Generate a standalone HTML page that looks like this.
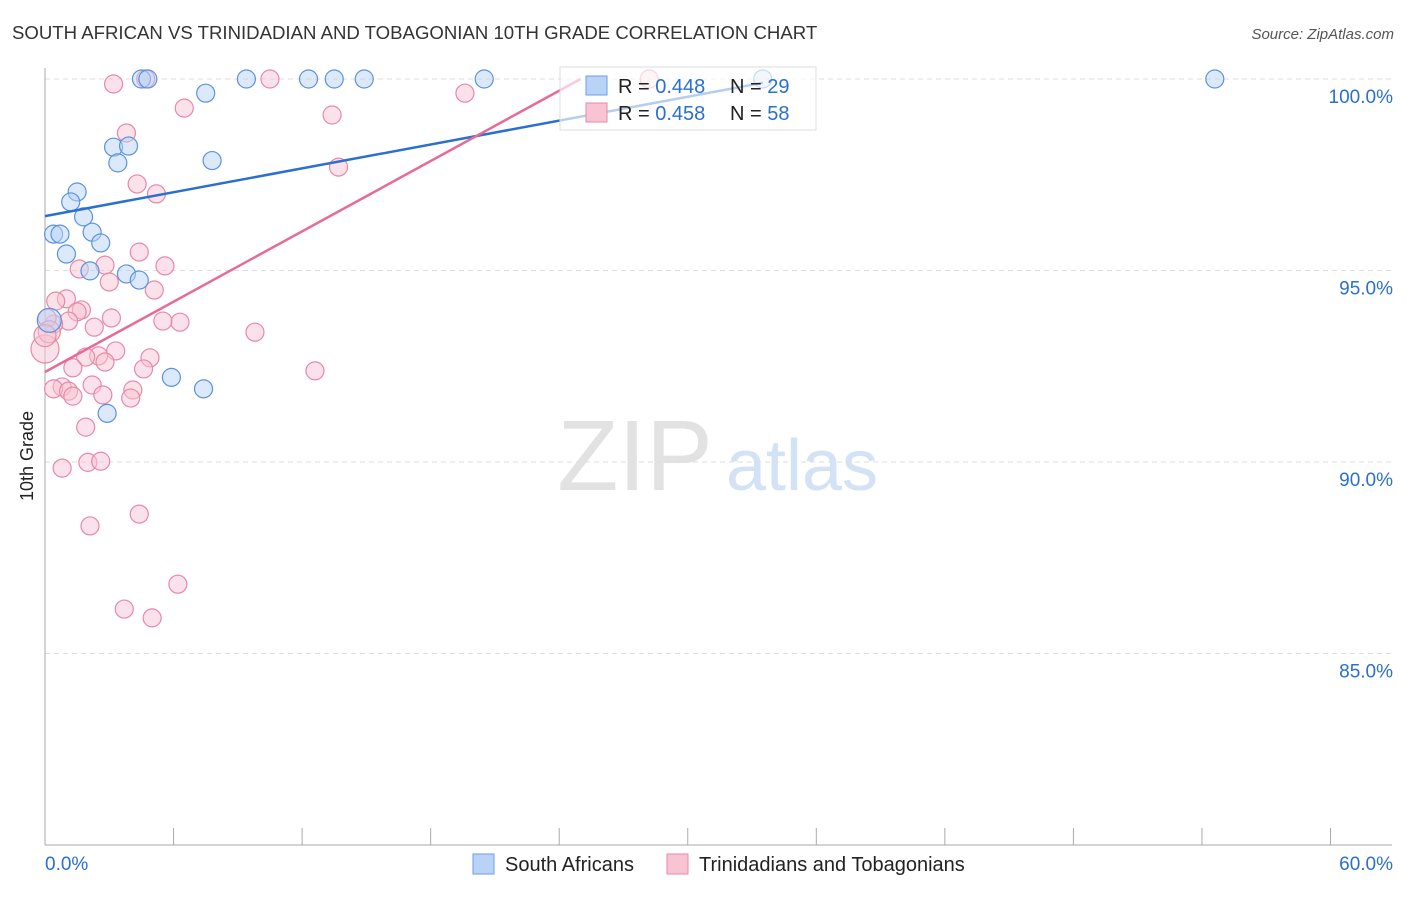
<!DOCTYPE html>
<html><head><meta charset="utf-8"><style>
body{margin:0;background:#fff;font-family:"Liberation Sans",sans-serif;}
svg text{font-family:"Liberation Sans",sans-serif;}
</style></head><body>
<svg id="chart" width="1406" height="892">
<text x="12" y="39" font-size="18.6" fill="#333">SOUTH AFRICAN VS TRINIDADIAN AND TOBAGONIAN 10TH GRADE CORRELATION CHART</text>
<text x="1394" y="39" font-size="15" fill="#555" font-style="italic" text-anchor="end">Source: ZipAtlas.com</text>
<text x="33" y="456" font-size="18" fill="#222" text-anchor="middle" transform="rotate(-90 33 456)">10th Grade</text>
<g><text x="635" y="490" font-size="100" fill="#e2e2e2" text-anchor="middle" font-family="Liberation Serif">ZIP</text><text x="802" y="490" font-size="72" fill="#d3e2f4" text-anchor="middle">atlas</text></g>
<g id="grid"></g><g id="axes"></g><g id="pts"></g><g id="lines"></g>
<g>
<rect x="560" y="67" width="256" height="63" fill="#fff" fill-opacity="0.65" stroke="#ddd"/>
<rect x="586" y="76" width="21" height="19" fill="#b8d3f5" stroke="#6d9ee6"/>
<text x="618" y="93" font-size="20" fill="#222">R = <tspan fill="#2b6fd1">0.448</tspan></text>
<text x="730" y="93" font-size="20" fill="#222">N = <tspan fill="#2b6fd1">29</tspan></text>
<rect x="586" y="103" width="21" height="19" fill="#f8c4d3" stroke="#e889a7"/>
<text x="618" y="120" font-size="20" fill="#222">R = <tspan fill="#2b6fd1">0.458</tspan></text>
<text x="730" y="120" font-size="20" fill="#222">N = <tspan fill="#2b6fd1">58</tspan></text>
</g>
<g>
<rect x="473" y="854" width="21" height="20" fill="#b8d3f5" stroke="#6d9ee6"/>
<text x="505" y="871" font-size="20" fill="#222">South Africans</text>
<rect x="667" y="854" width="21" height="20" fill="#f8c4d3" stroke="#e889a7"/>
<text x="699" y="871" font-size="20" fill="#222">Trinidadians and Tobagonians</text>
</g>
</svg>
<script>
const yTicks=[100,95,90,85];
const xTickCount=10;
const blueX=[4.5,4.8,9.4,12.3,13.5,14.9,20.5,54.6,33.5,7.5,3.2,3.9,3.4,7.8,1.5,1.2,1.8,0.4,0.7,2.2,2.6,1.0,2.1,3.8,4.4,5.9,7.4,2.9,0.2];
const blueY=[100,100,100,100,100,100,100,100,100,99.63,98.22,98.25,97.81,97.87,97.05,96.79,96.4,95.95,95.95,96.0,95.72,95.43,94.99,94.91,94.75,92.21,91.91,91.27,93.7];
const pinkX=[3.2,4.7,10.5,28.2,19.6,6.5,13.4,3.8,13.7,4.3,5.2,4.4,2.8,1.6,5.6,3.0,5.1,1.0,0.5,1.7,1.5,3.1,1.1,0.4,0.1,6.3,5.5,2.3,9.8,0.0,3.3,2.5,1.9,4.9,2.8,1.3,4.6,12.6,2.2,0.8,0.4,1.1,4.1,2.7,1.3,4.0,1.9,0.8,2.0,2.6,4.4,2.1,6.2,3.7,5.0,0.2,0.0];
const pinkY=[99.87,100,100,100,99.63,99.24,99.06,98.59,97.7,97.26,97.0,95.48,95.14,95.04,95.12,94.7,94.49,94.26,94.2,93.97,93.92,93.76,93.68,93.6,93.76,93.65,93.68,93.52,93.39,92.95,92.9,92.77,92.74,92.72,92.61,92.46,92.43,92.38,92.01,91.96,91.91,91.85,91.88,91.75,91.72,91.67,90.91,89.84,89.99,90.02,88.64,88.33,86.81,86.16,85.93,93.4,93.3];
const pinkR=[9,9,9,9,9,9,9,9,9,9,9,9,9,9,9,9,9,9,9,9,9,9,9,9,9,9,9,9,9,14,9,9,9,9,9,9,9,9,9,9,9,9,9,9,9,9,9,9,9,9,9,9,9,9,9,11,11];
const blueR=[9,9,9,9,9,9,9,9,9,9,9,9,9,9,9,9,9,9,9,9,9,9,9,9,9,9,9,9,12];
const blueLine=[[0,96.42],[33.5,99.9]];
const pinkLine=[[0,92.35],[25,100]];
const NS='http://www.w3.org/2000/svg';
const X=v=>45+v*21.425, Y=v=>79+(100-v)*38.3;
function mk(t,a,p){const e=document.createElementNS(NS,t);for(const k in a)e.setAttribute(k,a[k]);p.appendChild(e);return e;}
const grid=document.getElementById('grid'),axes=document.getElementById('axes'),pts=document.getElementById('pts'),lines=document.getElementById('lines');
yTicks.forEach(t=>{const l=mk('line',{x1:45,x2:1392,y1:Y(t),y2:Y(t),stroke:'#ddd','stroke-dasharray':'5,4'},grid);


const tx=mk('text',{x:1393,y:Y(t)+24,'font-size':19,fill:'#2b6fd1','text-anchor':'end'},axes);tx.textContent=t.toFixed(1)+'%';

});
const ax=mk('line',{x1:45,x2:45,y1:68,y2:845,stroke:'#aaa'},axes);


const bx=mk('line',{x1:45,x2:1392,y1:845,y2:845,stroke:'#aaa'},axes);


for(let i=0;i<=xTickCount;i++){const x=X(i*6);const t=mk('line',{x1:x,x2:x,y1:828,y2:845,stroke:'#aaa'},axes);

}
const x0=mk('text',{x:45,y:870,'font-size':19,fill:'#2b6fd1'},axes);x0.textContent='0.0%';


const x1=mk('text',{x:1393,y:870,'font-size':19,fill:'#2b6fd1','text-anchor':'end'},axes);x1.textContent='60.0%';


function series(xs,ys,rs,fill,stroke,name){xs.forEach((v,i)=>{const c=mk('circle',{cx:X(v),cy:Y(ys[i]),r:rs[i],fill:fill,'fill-opacity':0.5,stroke:stroke,'stroke-width':1.2},pts);

});}
series(pinkX,pinkY,pinkR,'#f8c4d3','#e889a7','trinidadian-point');
series(blueX,blueY,blueR,'#b8d3f5','#5b92e0','south-african-point');
const bl=mk('line',{x1:X(blueLine[0][0]),y1:Y(blueLine[0][1]),x2:X(blueLine[1][0]),y2:Y(blueLine[1][1]),stroke:'#2b6fd1','stroke-width':2.5},lines);


const pl=mk('line',{x1:X(pinkLine[0][0]),y1:Y(pinkLine[0][1]),x2:X(pinkLine[1][0]),y2:Y(pinkLine[1][1]),stroke:'#e86a96','stroke-width':2.5},lines);


</script>
</body></html>
